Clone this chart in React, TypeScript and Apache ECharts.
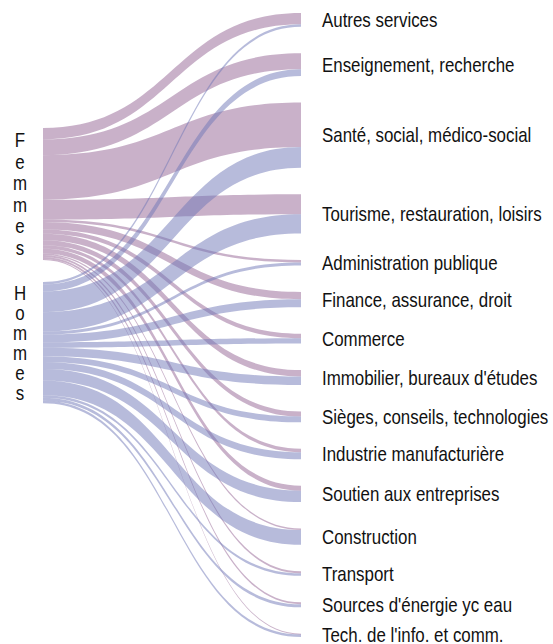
import React, { useEffect, useRef } from 'react';
import * as echarts from 'echarts';

const sources = ['Femmes', 'Hommes'];
const sourceLabels = ['F\ne\nm\nm\ne\ns', 'H\no\nm\nm\ne\ns'];
const categories = [
  'Autres services',
  'Enseignement, recherche',
  'Santé, social, médico-social',
  'Tourisme, restauration, loisirs',
  'Administration publique',
  'Finance, assurance, droit',
  'Commerce',
  "Immobilier, bureaux d'études",
  'Sièges, conseils, technologies',
  'Industrie manufacturière',
  'Soutien aux entreprises',
  'Construction',
  'Transport',
  "Sources d'énergie yc eau",
  "Tech. de l'info. et comm.",
];
const femmesValues = [11.5, 16, 45, 20, 2.5, 7.5, 4.5, 6.5, 5, 3.5, 5, 1.5, 2, 2, 0.8];
const hommesValues = [2.5, 7, 21, 19.5, 3, 8, 5.5, 8.5, 6, 7, 11.5, 15, 2.5, 3, 2.5];

const FONT = '"Liberation Sans", Arial, sans-serif';
const FONT_SIZE = 20;
const NARROW = 0.845;
const LINK_COLORS = ['#946494', '#7078b8'];

export default function App() {
  const ref = useRef<HTMLDivElement>(null);

  useEffect(() => {
    if (!ref.current) return;
    const chart = echarts.init(ref.current, undefined, { renderer: 'svg' });

    const left = 42;
    const right = 251;
    const top = 13;
    const bottom = 7;
    const layoutHeight = 644 - top - bottom;
    const sourceTopPx = [128, 282];
    const sourceLineHeights = [21.5, 20];

    const nodes: any[] = [];
    sources.forEach((s, i) => {
      nodes.push({
        name: s,
        localY: (sourceTopPx[i] - top) / layoutHeight,
        itemStyle: { color: 'rgba(0,0,0,0)', borderWidth: 0 },
      });
    });
    categories.forEach((c) => {
      nodes.push({
        name: c,
        itemStyle: { color: 'rgba(0,0,0,0)', borderWidth: 0 },
      });
    });

    const links: any[] = [];
    categories.forEach((c, j) => {
      links.push({
        source: sources[0],
        target: c,
        value: femmesValues[j],
        lineStyle: { color: LINK_COLORS[0] },
      });
    });
    categories.forEach((c, j) => {
      links.push({
        source: sources[1],
        target: c,
        value: hommesValues[j],
        lineStyle: { color: LINK_COLORS[1] },
      });
    });

    chart.setOption({
      animation: false,
      series: [
        {
          type: 'sankey',
          left: left,
          right: right,
          top: top,
          bottom: bottom,
          nodeWidth: 1,
          nodeGap: 26.5,
          layoutIterations: 0,
          draggable: false,
          emphasis: { disabled: true },
          data: nodes,
          links: links,
          label: { show: false },
          lineStyle: { curveness: 0.5, opacity: 0.5 },
        },
      ],
    });

    // Labels drawn as graphic texts (narrowed horizontally) at the library's node layout
    try {
      const seriesModel = (chart as any).getModel().getSeriesByIndex(0);
      const graph = seriesModel.getGraph();
      const data = seriesModel.getData();
      const elements: any[] = [];
      graph.nodes.forEach((node: any) => {
        const lay = node.getLayout();
        const name = data.getName(node.dataIndex);
        const srcIdx = sources.indexOf(name);
        if (srcIdx >= 0) {
          const y = (sourceTopPx[srcIdx] - top) / layoutHeight * layoutHeight;
          elements.push({
            type: 'text',
            x: left + lay.x - 22,
            y: top + y + lay.dy / 2,
            scaleX: NARROW,
            silent: true,
            style: {
              text: sourceLabels[srcIdx],
              fontSize: FONT_SIZE,
              fontFamily: FONT,
              fill: '#111',
              align: 'center',
              verticalAlign: 'middle',
              lineHeight: sourceLineHeights[srcIdx],
            },
          });
        } else {
          elements.push({
            type: 'text',
            x: left + lay.x + lay.dx + 20,
            y: top + lay.y + lay.dy / 2,
            scaleX: NARROW,
            silent: true,
            style: {
              text: name,
              fontSize: FONT_SIZE,
              fontFamily: FONT,
              fill: '#111',
              align: 'left',
              verticalAlign: 'middle',
            },
          });
        }
      });
      chart.setOption({ graphic: { elements } });
    } catch (e) {
      // ignore
    }

    return () => chart.dispose();
  }, []);

  return (
    <div
      ref={ref}
      style={{ position: 'fixed', left: 0, top: 0, width: 553, height: 644, background: '#fff' }}
    />
  );
}
